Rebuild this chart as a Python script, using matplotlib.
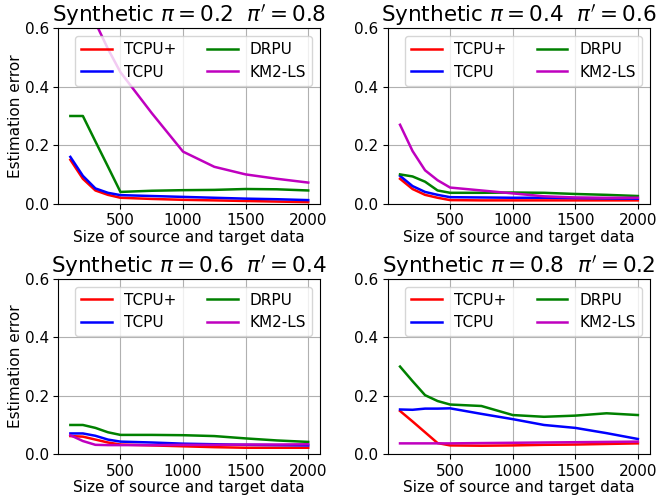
"""Estimation error vs. sample size on synthetic data, four class-prior settings."""

import matplotlib
matplotlib.use('Agg')
import matplotlib.pyplot as plt

sizes = [100, 200, 300, 400, 500, 750, 1000, 1250, 1500, 1750, 2000]

titles = [r'Synthetic $\pi=0.2\ \ \pi^{\prime}=0.8$',
          r'Synthetic $\pi=0.4\ \ \pi^{\prime}=0.6$',
          r'Synthetic $\pi=0.6\ \ \pi^{\prime}=0.4$',
          r'Synthetic $\pi=0.8\ \ \pi^{\prime}=0.2$']

# pi = 0.2
tcpu_plus_1 = [0.150, 0.085, 0.045, 0.030, 0.020, 0.016, 0.013, 0.011, 0.009, 0.007, 0.005]
tcpu_1 = [0.160, 0.095, 0.052, 0.037, 0.029, 0.026, 0.023, 0.020, 0.017, 0.015, 0.012]
drpu_1 = [0.300, 0.300, 0.213, 0.127, 0.040, 0.044, 0.046, 0.047, 0.050, 0.049, 0.045]
km2_1 = [1.000, 0.800, 0.620, 0.530, 0.450, 0.310, 0.178, 0.126, 0.100, 0.085, 0.072]

# pi = 0.4
tcpu_plus_2 = [0.085, 0.050, 0.030, 0.020, 0.012, 0.011, 0.011, 0.011, 0.011, 0.011, 0.011]
tcpu_2 = [0.095, 0.060, 0.040, 0.030, 0.022, 0.021, 0.020, 0.020, 0.019, 0.018, 0.017]
drpu_2 = [0.100, 0.093, 0.075, 0.045, 0.037, 0.037, 0.038, 0.037, 0.033, 0.030, 0.026]
km2_2 = [0.270, 0.180, 0.114, 0.080, 0.055, 0.045, 0.035, 0.025, 0.021, 0.020, 0.020]

# pi = 0.6
tcpu_plus_3 = [0.062, 0.060, 0.050, 0.040, 0.033, 0.030, 0.027, 0.024, 0.022, 0.022, 0.022]
tcpu_3 = [0.071, 0.071, 0.063, 0.050, 0.043, 0.040, 0.036, 0.034, 0.032, 0.031, 0.030]
drpu_3 = [0.100, 0.100, 0.090, 0.075, 0.066, 0.066, 0.065, 0.062, 0.054, 0.047, 0.042]
km2_3 = [0.065, 0.045, 0.032, 0.031, 0.031, 0.031, 0.032, 0.032, 0.033, 0.033, 0.034]

# pi = 0.8
tcpu_plus_4 = [0.148, 0.112, 0.075, 0.038, 0.030, 0.029, 0.030, 0.032, 0.033, 0.035, 0.037]
tcpu_4 = [0.153, 0.152, 0.156, 0.156, 0.157, 0.138, 0.120, 0.100, 0.090, 0.072, 0.052]
drpu_4 = [0.300, 0.250, 0.202, 0.182, 0.170, 0.165, 0.134, 0.128, 0.132, 0.140, 0.134]
km2_4 = [0.037, 0.037, 0.037, 0.037, 0.037, 0.038, 0.039, 0.040, 0.041, 0.042, 0.043]

panels = [
    (tcpu_plus_1, tcpu_1, drpu_1, km2_1),
    (tcpu_plus_2, tcpu_2, drpu_2, km2_2),
    (tcpu_plus_3, tcpu_3, drpu_3, km2_3),
    (tcpu_plus_4, tcpu_4, drpu_4, km2_4),
]

labels = ['TCPU+', 'TCPU', 'DRPU', 'KM2-LS']
colors = ['r', 'b', 'g', 'm']

fig, axes = plt.subplots(2, 2, figsize=(6.57, 4.98), dpi=100)
fig.subplots_adjust(left=0.089, right=0.989, bottom=0.088, top=0.943,
                    wspace=0.26, hspace=0.43)

for i, (ax, series) in enumerate(zip(axes.flat, panels)):
    for vals, lab, col in zip(series, labels, colors):
        ax.plot(sizes, vals, color=col, label=lab, linewidth=1.8)
    ax.set_ylim(0, 0.6)
    ax.set_yticks([0, 0.2, 0.4, 0.6])
    ax.set_xticks([500, 1000, 1500, 2000])
    ax.tick_params(labelsize=11)
    ax.grid(True)
    ax.set_title(titles[i], fontsize=15.5, pad=3)
    ax.set_xlabel('Size of source and target data', fontsize=11, labelpad=1)
    if i % 2 == 0:
        ax.set_ylabel('Estimation error', fontsize=11, labelpad=1)
    ax.legend(loc='upper right', ncol=2, fontsize=11)

fig.savefig('out.png')
